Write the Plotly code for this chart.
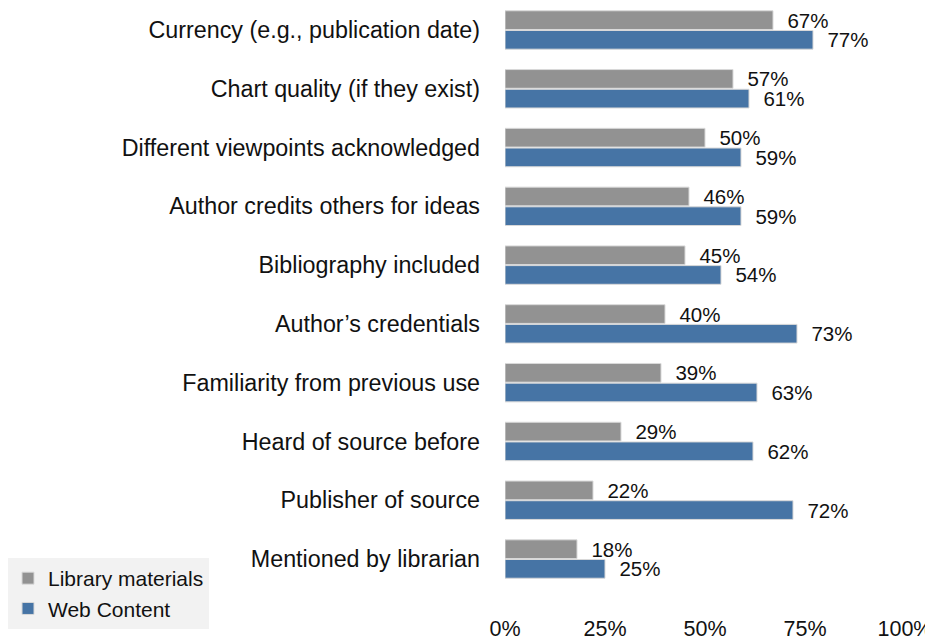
import plotly.graph_objects as go

categories = [
    "Currency (e.g., publication date)",
    "Chart quality (if they exist)",
    "Different viewpoints acknowledged",
    "Author credits others for ideas",
    "Bibliography included",
    "Author’s credentials",
    "Familiarity from previous use",
    "Heard of source before",
    "Publisher of source",
    "Mentioned by librarian",
]
library_materials = [67, 57, 50, 46, 45, 40, 39, 29, 22, 18]
web_content = [77, 61, 59, 59, 54, 73, 63, 62, 72, 25]
tick_values = [0, 25, 50, 75, 100]
tick_labels = ["0%", "25%", "50%", "75%", "100%"]

FONT = "Liberation Sans, Arial, Helvetica, sans-serif"

fig = go.Figure()
fig.add_trace(go.Bar(
    y=categories, x=library_materials, orientation="h", name="Library materials",
    marker=dict(color="#929292", line=dict(color="#d9d9d9", width=1)),
    text=["  %d%%" % v for v in library_materials], textposition="outside",
    constraintext="none",
    textfont=dict(size=20.5, color="#111111", family=FONT), cliponaxis=False,
))
fig.add_trace(go.Bar(
    y=categories, x=web_content, orientation="h", name="Web Content",
    marker=dict(color="#4674A5", line=dict(color="#d9d9d9", width=1)),
    text=["  %d%%" % v for v in web_content], textposition="outside",
    constraintext="none",
    textfont=dict(size=20.5, color="#111111", family=FONT), cliponaxis=False,
))

fig.update_layout(
    width=925, height=631,
    margin=dict(l=497, r=28, t=0, b=51),
    plot_bgcolor="white", paper_bgcolor="white",
    font=dict(family=FONT, color="#111111", size=21),
    barmode="group", bargap=0.33, bargroupgap=0.05,
    showlegend=True,
    legend=dict(
        x=-1.2425, y=0.0517, xanchor="left", yanchor="top",
        bgcolor="#f2f2f2", font=dict(size=21, family=FONT, color="#111111"),
        traceorder="normal", itemwidth=30, tracegroupgap=0,
    ),
    xaxis=dict(
        range=[0, 100], tickvals=tick_values, ticktext=tick_labels,
        showgrid=False, zeroline=False, showline=False, ticks="",
        tickfont=dict(size=21.5), ticklabelstandoff=25, automargin=False,
    ),
    yaxis=dict(
        range=[9.493, -0.374], showgrid=False, showline=False, ticks="",
        tickfont=dict(size=23.3), ticklabelstandoff=24, automargin=False,
    ),
)

fig.write_html("out.html")
